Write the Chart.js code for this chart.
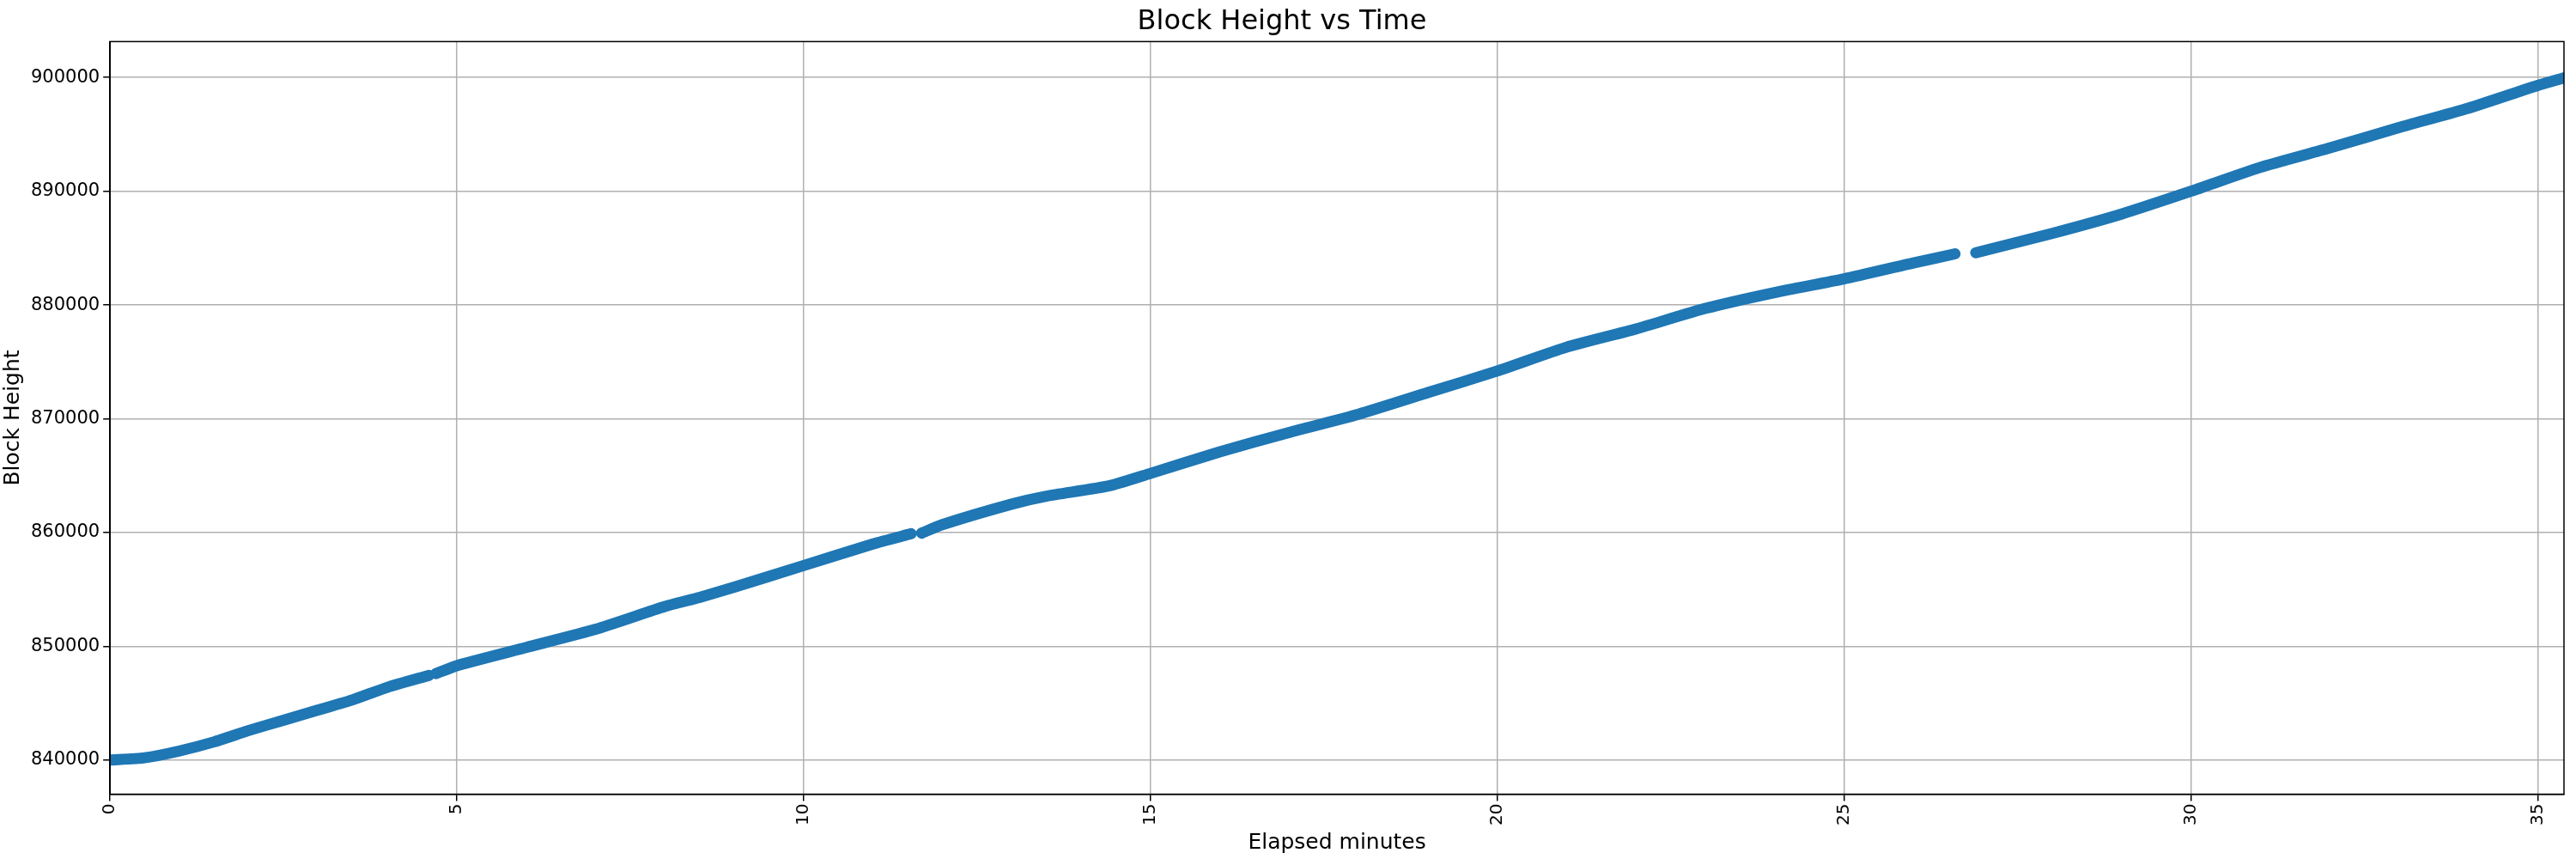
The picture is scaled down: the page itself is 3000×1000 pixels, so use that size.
<!DOCTYPE html>
<html><head><meta charset="utf-8">
<script src="https://cdn.jsdelivr.net/npm/chart.js@4"></script>
<style>html,body{margin:0;padding:0;background:#fff}#wrap{width:3000px;height:1000px}</style>
</head><body><div id="wrap"><canvas id="c" width="3000" height="1000"></canvas></div>
<script>
const minutes = [0,0.5,1,1.5,2,2.5,3,3.5,4,4.6,null,4.7,5,6,7,8,8.5,9,10,11,11.55,null,11.7,12,13,13.5,14.4,15,16,17,18,19,20,21,22,23,24,25,26,26.6,null,26.9,28,29,30,31,32,33,34,35,35.4];
const heights = [840000,840200,840800,841600,842600,843500,844400,845300,846400,847450,null,847600,848300,849900,851500,853500,854300,855200,857100,859000,859900,null,859950,860700,862500,863200,864100,865200,867100,868800,870400,872300,874200,876300,877900,879700,881100,882300,883700,884500,null,884600,886300,888000,890000,892100,893800,895600,897300,899300,900000];
const yTicks = [840000,850000,860000,870000,880000,890000,900000];
const xTicks = [0,5,10,15,20,25,30,35];
const pts = minutes.map((m,i)=> m===null ? {x:null,y:null} : {x:m,y:heights[i]});
const boxPlugin = {id:'box',afterDraw(ch){const a=ch.chartArea,c=ch.ctx;c.save();c.strokeStyle='#000';c.lineWidth=1.5;c.strokeRect(a.left,a.top,a.right-a.left,a.bottom-a.top);c.restore();}};
new Chart(document.getElementById('c'),{
 type:'line',
 data:{datasets:[{data:pts,borderColor:'#1f77b4',borderWidth:13,borderCapStyle:'round',borderJoinStyle:'round',pointRadius:0,spanGaps:false,tension:0.2}]},
 options:{responsive:false,animation:false,devicePixelRatio:1,
  layout:{padding:{top:0,right:14,left:0,bottom:0}},
  plugins:{legend:{display:false},tooltip:{enabled:false},
   title:{display:true,text:'Block Height vs Time',font:{family:'DejaVu Sans',size:32,weight:'normal'},color:'#000',padding:{top:6,bottom:4}}},
  scales:{
   x:{type:'linear',min:0,max:35.38,
    afterBuildTicks(s){s.ticks=xTicks.map(v=>({value:v}));},
    ticks:{maxRotation:90,minRotation:90,font:{family:'DejaVu Sans',size:20},color:'#000',padding:3},
    grid:{color:'#b0b0b0',lineWidth:1.5,tickLength:8,tickColor:'#000'},border:{color:'#000',width:1.5},
    title:{display:true,text:'Elapsed minutes',font:{family:'DejaVu Sans',size:25},color:'#000',padding:{top:2,bottom:4}}},
   y:{min:837000,max:903160,
    afterBuildTicks(s){s.ticks=yTicks.map(v=>({value:v}));},
    ticks:{font:{family:'DejaVu Sans',size:21},color:'#000',padding:4,callback:v=>String(v)},
    grid:{color:'#b0b0b0',lineWidth:1.5,tickLength:8,tickColor:'#000'},border:{color:'#000',width:1.5},
    title:{display:true,text:'Block Height',font:{family:'DejaVu Sans',size:25},color:'#000',padding:{top:0,bottom:2}}}
  }},
 plugins:[boxPlugin]
});
</script></body></html>
